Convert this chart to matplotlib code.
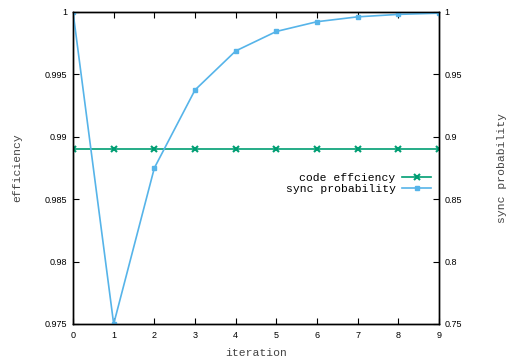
import numpy as np
import matplotlib
matplotlib.use("Agg")
import matplotlib.pyplot as plt

iteration = [0, 1, 2, 3, 4, 5, 6, 7, 8, 9]
code_efficiency = [0.989] * 10
sync_probability = [1.0, 0.75, 0.875, 0.9375, 0.96875, 0.984375,
                    0.9921875, 0.99609375, 0.998046875, 0.9990234375]

mono = "Liberation Mono"
sans = "Liberation Sans"

fig = plt.figure(figsize=(5.07, 3.62), dpi=100)
ax1 = fig.add_axes([0.144, 0.105, 0.722, 0.862])
ax2 = ax1.twinx()

l1, = ax1.plot(iteration, code_efficiency, color="#009e73", lw=1.2,
               marker="x", ms=4, mew=1.5, label="code effciency")
l2, = ax2.plot(iteration, sync_probability, color="#56b4e9", lw=1.2,
               marker="s", ms=3.5, label="sync probability")

ax1.set_xlim(0, 9)
ax1.set_ylim(0.975, 1.0)
ax2.set_ylim(0.75, 1.0)
ax1.set_xticks(range(10))
ax1.set_yticks(np.arange(0.975, 1.0001, 0.005))
ax1.set_yticklabels(["0.975", "0.98", "0.985", "0.99", "0.995", "1"])
ax2.set_yticks(np.arange(0.75, 1.0001, 0.05))
ax2.set_yticklabels(["0.75", "0.8", "0.85", "0.9", "0.95", "1"])

for ax in (ax1, ax2):
    for sp in ax.spines.values():
        sp.set_linewidth(1.0)
    for lab in ax.get_xticklabels() + ax.get_yticklabels():
        lab.set_fontfamily(sans)
        lab.set_fontsize(6.5)
ax1.tick_params(axis="x", direction="in", top=True, length=4, pad=5)
ax1.tick_params(axis="y", direction="in", length=4, pad=4)
ax2.tick_params(axis="y", direction="in", length=4, pad=4)

ax1.set_xlabel("iteration", family=mono, fontsize=8.2, color="#444444", labelpad=6)
ax1.set_ylabel("efficiency", family=mono, fontsize=8.2, color="#444444", labelpad=16)
ax2.set_ylabel("sync probability", family=mono, fontsize=8.2, color="#444444", labelpad=25)

ax1.legend(handles=[l1, l2], loc="upper right", bbox_to_anchor=(0.99, 0.50),
           frameon=False, markerfirst=False, prop={"family": mono, "size": 8.2},
           handlelength=2.5, labelspacing=0.1, borderaxespad=0, handletextpad=0.6)

fig.savefig("out.png", dpi=100)
